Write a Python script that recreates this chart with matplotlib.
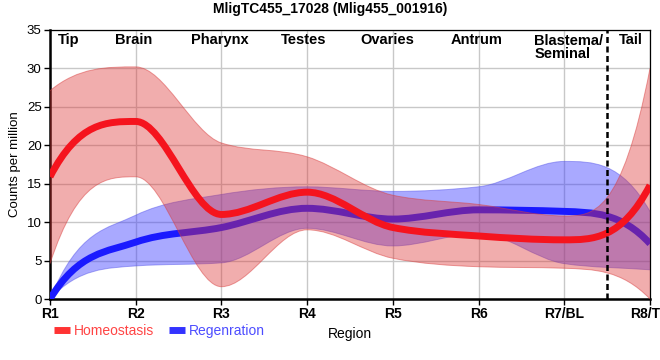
import numpy as np
import matplotlib
matplotlib.use("Agg")
import matplotlib.pyplot as plt
from matplotlib.path import Path
from matplotlib.patches import PathPatch
from matplotlib.lines import Line2D

plt.rcParams['font.family'] = ['Liberation Sans', 'DejaVu Sans']

# data
positions = [1, 2, 3, 4, 5, 6, 7, 8]
tick_labels = ['R1', 'R2', 'R3', 'R4', 'R5', 'R6', 'R7/BL', 'R8/TP']
region_names = ['Tip', 'Brain', 'Pharynx', 'Testes', 'Ovaries', 'Antrum', 'Tail']
region_x = [1.22, 1.97, 2.98, 3.96, 4.94, 5.98, 7.78]

homeo_mean = [15.9, 23.1, 11.0, 13.9, 9.3, 8.2, 7.7, 14.8]
homeo_upper = [27.1, 30.2, 20.3, 18.5, 13.5, 12.3, 10.8, 30.0]
homeo_lower = [4.6, 15.9, 1.6, 9.0, 5.3, 4.2, 4.0, 0.0]

regen_mean = [0.0, 7.4, 9.3, 11.8, 10.4, 11.6, 11.4, 7.2]
regen_upper = [0.0, 10.9, 13.6, 14.6, 14.0, 14.6, 17.9, 11.4]
regen_lower = [0.0, 4.3, 4.7, 9.2, 6.9, 8.5, 4.6, 3.8]


def mono_slopes(x, y):
    # monotone cubic tangents (Fritsch-Carlson style)
    x = np.asarray(x, float)
    y = np.asarray(y, float)
    h = np.diff(x)
    s = np.diff(y) / h
    t = np.zeros_like(y)
    for i in range(1, len(y) - 1):
        if s[i - 1] * s[i] > 0:
            p = (s[i - 1] * h[i] + s[i] * h[i - 1]) / (h[i - 1] + h[i])
            t[i] = 2 * np.sign(s[i]) * min(abs(s[i - 1]), abs(s[i]), 0.5 * abs(p))
    for end, adj, sec in [(0, 1, s[0]), (-1, -2, s[-1])]:
        v = 3 * sec - t[adj]
        if v * sec <= 0:
            v = 0.0
        elif abs(v) > 3 * abs(sec):
            v = 3 * sec
        t[end] = v
    return x, y, t


def segments(x, y, t, reverse=False):
    verts = []
    idx = range(len(x) - 1)
    if reverse:
        idx = reversed(list(idx))
    for i in idx:
        h = x[i + 1] - x[i]
        c1 = (x[i] + h / 3, y[i] + h / 3 * t[i])
        c2 = (x[i + 1] - h / 3, y[i + 1] - h / 3 * t[i + 1])
        if reverse:
            verts += [c2, c1, (x[i], y[i])]
        else:
            verts += [c1, c2, (x[i + 1], y[i + 1])]
    return verts


def curve_path(xs, ys):
    x, y, t = mono_slopes(xs, ys)
    verts = [(x[0], y[0])] + segments(x, y, t)
    codes = [Path.MOVETO] + [Path.CURVE4] * (len(verts) - 1)
    return Path(verts, codes)


def band_path(xs, lo, hi):
    x, yu, tu = mono_slopes(xs, hi)
    _, yl, tl = mono_slopes(xs, lo)
    up = segments(x, yu, tu)
    down = segments(x, yl, tl, reverse=True)
    verts = [(x[0], yu[0])] + up + [(x[-1], yl[-1])] + down + [(x[0], yu[0])]
    codes = ([Path.MOVETO] + [Path.CURVE4] * len(up) + [Path.LINETO]
             + [Path.CURVE4] * len(down) + [Path.CLOSEPOLY])
    return Path(verts, codes)


def draw_band(ax, lo, hi, face, edge, z):
    ax.add_patch(PathPatch(band_path(positions, lo, hi), facecolor=face,
                           edgecolor='none', zorder=z))
    for ys in (lo, hi):
        ax.add_patch(PathPatch(curve_path(positions, ys), fill=False,
                               edgecolor=edge, lw=0.7, zorder=z))


fig = plt.figure(figsize=(6.6, 3.6), dpi=100)
ax = fig.add_axes([50 / 660, 1 - 299 / 360, 600 / 660, 269 / 360])

red = '#f5141e'
blue = '#1a1aff'

draw_band(ax, regen_lower, regen_upper, (0.25, 0.25, 1.0, 0.45), (0.3, 0.3, 0.9, 0.45), 2)
ax.add_patch(PathPatch(curve_path(positions, regen_mean), fill=False,
                       edgecolor=blue, lw=5, capstyle='butt', zorder=3))
draw_band(ax, homeo_lower, homeo_upper, (0.87, 0.2, 0.2, 0.4), (0.85, 0.25, 0.25, 0.5), 4)
ax.add_patch(PathPatch(curve_path(positions, homeo_mean), fill=False,
                       edgecolor=red, lw=5, capstyle='butt', zorder=5))

ax.axvline(7.5, color='black', lw=1.8, ls=(0, (2.4, 1.4)), zorder=6)

ax.set_xlim(1, 8)
ax.set_ylim(0, 35)
ax.set_xticks(positions)
ax.set_xticklabels(tick_labels, fontsize=10, fontweight='bold')
ax.set_yticks(range(0, 36, 5))
ax.tick_params(axis='y', labelsize=9.5, length=4, width=1, pad=2)
ax.tick_params(axis='x', length=4, width=1, pad=2)
ax.grid(True, color='#c8c8c8', lw=1)
ax.set_axisbelow(True)
for side in ['left', 'bottom']:
    ax.spines[side].set_linewidth(1.8)
for side in ['top', 'right']:
    ax.spines[side].set_linewidth(0.9)

ax.set_ylabel('Counts per million', fontsize=9.5, labelpad=4)
ax.set_xlabel('Region', fontsize=10, labelpad=4)

for name, xr in zip(region_names, region_x):
    ax.text(xr, 33.7, name, ha='center', va='center', fontsize=10.5, fontweight='bold')
ax.text(6.65, 34.5, 'Blastema/\nSeminal', ha='left', va='top', fontsize=10.5,
        fontweight='bold', linespacing=0.95)

fig.text(0.5, 1 - 9 / 360, 'MligTC455_17028 (Mlig455_001916)', ha='center', va='center',
         fontsize=10, fontweight='bold')

handles = [Line2D([], [], color='#ff3333', lw=5, solid_capstyle='butt'),
           Line2D([], [], color='#3333ff', lw=5, solid_capstyle='butt')]
leg = fig.legend(handles, ['Homeostasis', 'Regenration'], loc='center left',
                 bbox_to_anchor=(42 / 660, 1 - 331 / 360), ncol=2, frameon=False,
                 fontsize=10, handlelength=1.1, handletextpad=0.3, columnspacing=1.1,
                 labelcolor=['#ff4444', '#4d4dff'])

fig.savefig('out.png', dpi=100)
